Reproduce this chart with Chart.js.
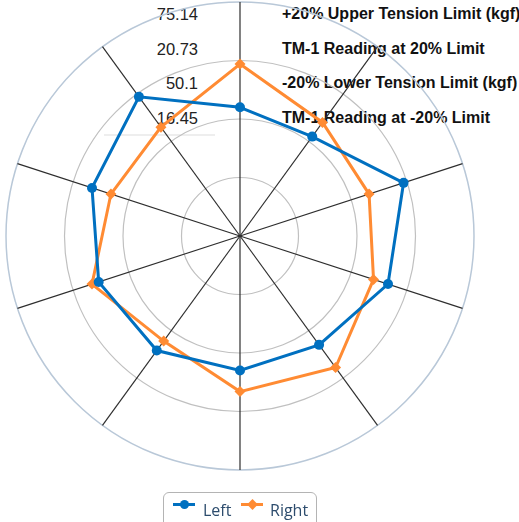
<!DOCTYPE html>
<html>
<head>
<meta charset="utf-8">
<script src="https://cdn.jsdelivr.net/npm/chart.js@4/dist/chart.umd.min.js"></script>
<style>
    body { margin: 0; background: #fff; }
    #wrap { position: relative; width: 519px; height: 522px; overflow: hidden; }
    #chartBox { position: absolute; left: 0; top: 0; width: 519px; height: 522px; z-index: 1; }
    #limits { position: absolute; left: 0; top: 0; z-index: 0; font-family: "Liberation Sans", Arial, sans-serif; color: #222; }
    #limits .row { position: absolute; height: 20px; line-height: 20px; white-space: nowrap; }
    #limits .num { width: 120px; text-align: right; font-size: 16.5px; left: 78px; }
    #limits .lbl { left: 282px; font-size: 16px; font-weight: bold; color: #111; }
    #limits .rule { position: absolute; left: 104px; top: 134px; width: 111px; height: 2px; background: #eeeeee; }
    #legend { position: absolute; left: 163px; top: 492px; width: 152px; height: 40px; border: 1.5px solid #b4b4b4; border-radius: 6px; z-index: 2;
        font-family: "Open Sans", sans-serif; font-size: 16px; color: #2d4c6d; }
    .item { position: absolute; top: 6px; height: 22px; line-height: 22px; }
    .icon { position: absolute; top: 10px; width: 22px; height: 3px; }
    .dot { position: absolute; top: 7px; width: 9px; height: 9px; }
</style>
</head>
<body>
<div id="wrap">
    <div id="limits"></div>
    <div id="chartBox"><canvas id="radar"></canvas></div>
    <div id="legend"></div>
</div>
<script>
const categories = ['1', '2', '3', '4', '5', '6', '7', '8', '9', '10'];
const leftValues = [55, 52.5, 73.5, 66.5, 57.5, 57.5, 60.5, 63.5, 66.5, 73.5];
const rightValues = [73.5, 60, 58, 60, 69.5, 66.5, 55.5, 66.5, 58, 57.5];
const scaleMax = 100;
const scaleStep = 25;

const limitValues = ['75.14', '20.73', '50.1', '16.45'];
const limitNames = ['+20% Upper Tension Limit (kgf)', 'TM-1 Reading at 20% Limit', '-20% Lower Tension Limit (kgf)', 'TM-1 Reading at -20% Limit'];

const seriesNames = ['Left', 'Right'];
const blue = '#0070c0';
const orange = '#ff8b33';

// limit rows behind the chart
const limits = document.getElementById('limits');
limitValues.forEach((v, i) => {
    const top = 4 + i * 34.7;
    limits.innerHTML += `<div class="row num" style="top:${top}px">${v}</div>`;
    limits.innerHTML += `<div class="row lbl" style="top:${top}px">${limitNames[i]}</div>`;
});
limits.innerHTML += '<div class="rule"></div>';

// legend
const legend = document.getElementById('legend');
legend.innerHTML = `
    <div class="icon" style="left:9px;background:${blue}"></div>
    <div class="dot" style="left:15.5px;background:${blue};border-radius:50%"></div>
    <div class="item" style="left:39px">${seriesNames[0]}</div>
    <div class="icon" style="left:77px;background:${orange}"></div>
    <div class="dot" style="left:83.5px;background:${orange};transform:rotate(45deg) scale(0.85)"></div>
    <div class="item" style="left:106px">${seriesNames[1]}</div>
`;

new Chart(document.getElementById('radar'), {
    type: 'radar',
    data: {
        labels: categories,
        datasets: [{
            label: seriesNames[0],
            data: leftValues,
            borderColor: blue,
            backgroundColor: blue,
            borderWidth: 3,
            pointStyle: 'circle',
            pointRadius: 5,
            pointBorderWidth: 0,
            fill: false
        }, {
            label: seriesNames[1],
            data: rightValues,
            borderColor: orange,
            backgroundColor: orange,
            borderWidth: 3,
            pointStyle: 'rectRot',
            pointRadius: 5.5,
            pointBorderWidth: 0,
            fill: false
        }]
    },
    options: {
        responsive: true,
        maintainAspectRatio: false,
        animation: false,
        layout: { padding: { left: 6, top: 2, right: 45, bottom: 52 } },
        plugins: {
            legend: { display: false },
            tooltip: { enabled: false }
        },
        elements: { line: { tension: 0 } },
        scales: {
            r: {
                min: 0,
                max: scaleMax,
                ticks: { display: false, stepSize: scaleStep },
                pointLabels: { display: false },
                angleLines: { color: '#2e2e2e', lineWidth: 1.2 },
                grid: {
                    circular: true,
                    color: (ctx) => ctx.tick && ctx.tick.value === scaleMax ? '#b9c8d8' : '#c0c0c0',
                    lineWidth: (ctx) => ctx.tick && ctx.tick.value === scaleMax ? 1.5 : 1.2
                }
            }
        }
    }
});
</script>
</body>
</html>
